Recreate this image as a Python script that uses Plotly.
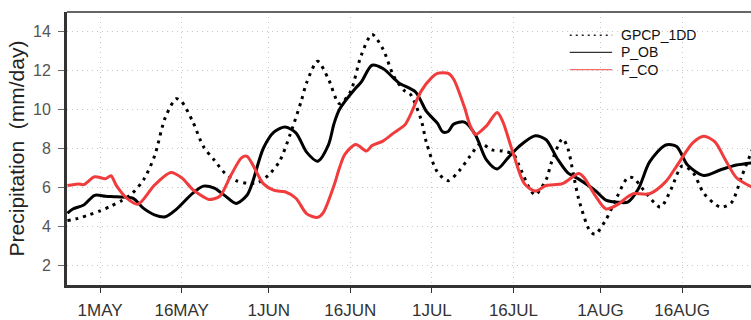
import plotly.graph_objects as go

# Daily precipitation series (mm/day), summer season
gpcp_dates = ["2010-04-25", "2010-04-27", "2010-04-29", "2010-05-01", "2010-05-03", "2010-05-05",
              "2010-05-07", "2010-05-09", "2010-05-11", "2010-05-13", "2010-05-15", "2010-05-16",
              "2010-05-18", "2010-05-20", "2010-05-22", "2010-05-24", "2010-05-26", "2010-05-28",
              "2010-05-30", "2010-06-01", "2010-06-03", "2010-06-05", "2010-06-07", "2010-06-08",
              "2010-06-10", "2010-06-12", "2010-06-14", "2010-06-16", "2010-06-18", "2010-06-20",
              "2010-06-22", "2010-06-24", "2010-06-26", "2010-06-27", "2010-06-29", "2010-06-30",
              "2010-07-02", "2010-07-04", "2010-07-06", "2010-07-08", "2010-07-10", "2010-07-12",
              "2010-07-14", "2010-07-16", "2010-07-17", "2010-07-19", "2010-07-20", "2010-07-22",
              "2010-07-23", "2010-07-25", "2010-07-26", "2010-07-27", "2010-07-28", "2010-07-30",
              "2010-07-31", "2010-08-02", "2010-08-04", "2010-08-06", "2010-08-07", "2010-08-09",
              "2010-08-12", "2010-08-14", "2010-08-16", "2010-08-18", "2010-08-20", "2010-08-23",
              "2010-08-25", "2010-08-27", "2010-08-29"]
gpcp_vals = [4.3, 4.42, 4.6, 4.8, 5.05, 5.33,
             5.73, 6.4, 7.6, 9.6, 10.55, 10.4,
             9.4, 8.1, 7.4, 6.72, 6.35, 6.22,
             6.25, 6.65, 7.35, 8.77, 10.45, 11.4,
             12.47, 11.55, 10.3, 10.9, 12.77, 13.85,
             13.1, 11.7, 10.95, 10.8, 9.5, 8.3,
             6.8, 6.35, 6.85, 7.6, 8.25, 7.93,
             7.87, 7.7, 7.15, 5.93, 5.62, 6.4,
             7.3, 8.5, 8.0, 6.7, 5.4, 3.8,
             3.6, 4.35, 5.5, 6.5, 6.5, 5.85,
             5.0, 5.93, 7.1, 6.77, 5.7, 5.0,
             5.2, 6.6, 8.0]

pob_dates = ["2010-04-25", "2010-04-26", "2010-04-28", "2010-04-30", "2010-05-02", "2010-05-04",
             "2010-05-07", "2010-05-09", "2010-05-11", "2010-05-13", "2010-05-15", "2010-05-18",
             "2010-05-20", "2010-05-22", "2010-05-24", "2010-05-26", "2010-05-28", "2010-05-29",
             "2010-05-31", "2010-06-02", "2010-06-04", "2010-06-06", "2010-06-08", "2010-06-10",
             "2010-06-12", "2010-06-13", "2010-06-14", "2010-06-17", "2010-06-18", "2010-06-20",
             "2010-06-22", "2010-06-24", "2010-06-25", "2010-06-28", "2010-06-30", "2010-07-02",
             "2010-07-03", "2010-07-04", "2010-07-05", "2010-07-07", "2010-07-09", "2010-07-11",
             "2010-07-13", "2010-07-15", "2010-07-17", "2010-07-20", "2010-07-22", "2010-07-24",
             "2010-07-26", "2010-07-28", "2010-07-31", "2010-08-02", "2010-08-04", "2010-08-06",
             "2010-08-08", "2010-08-10", "2010-08-13", "2010-08-15", "2010-08-17", "2010-08-20",
             "2010-08-23", "2010-08-26", "2010-08-29"]
pob_vals = [4.68, 4.9, 5.1, 5.6, 5.55, 5.52,
            5.45, 4.93, 4.6, 4.5, 4.88, 5.7,
            6.07, 5.97, 5.57, 5.18, 5.6, 6.25,
            8.0, 8.85, 9.1, 8.8, 7.8, 7.35,
            8.2, 9.27, 10.0, 11.1, 11.4, 12.27,
            12.1, 11.6, 11.35, 10.9, 9.9, 9.3,
            8.85, 8.87, 9.25, 9.35, 8.7, 7.43,
            6.95, 7.52, 8.1, 8.65, 8.45, 7.5,
            6.75, 6.43, 5.85, 5.35, 5.25, 5.25,
            5.95, 7.3, 8.18, 8.1, 7.15, 6.62,
            6.9, 7.15, 7.27]

fco_dates = ["2010-04-25", "2010-04-27", "2010-04-28", "2010-04-30", "2010-05-02", "2010-05-03",
             "2010-05-04", "2010-05-06", "2010-05-08", "2010-05-11", "2010-05-14", "2010-05-16",
             "2010-05-18", "2010-05-20", "2010-05-21", "2010-05-23", "2010-05-25", "2010-05-27",
             "2010-05-28", "2010-05-29", "2010-05-31", "2010-06-02", "2010-06-04", "2010-06-06",
             "2010-06-08", "2010-06-10", "2010-06-11", "2010-06-13", "2010-06-14", "2010-06-15",
             "2010-06-17", "2010-06-19", "2010-06-20", "2010-06-22", "2010-06-24", "2010-06-26",
             "2010-06-27", "2010-06-29", "2010-07-01", "2010-07-02", "2010-07-04", "2010-07-05",
             "2010-07-07", "2010-07-08", "2010-07-09", "2010-07-11", "2010-07-13", "2010-07-14",
             "2010-07-16", "2010-07-18", "2010-07-20", "2010-07-22", "2010-07-25", "2010-07-28",
             "2010-07-29", "2010-07-31", "2010-08-02", "2010-08-04", "2010-08-06", "2010-08-07",
             "2010-08-10", "2010-08-13", "2010-08-15", "2010-08-18", "2010-08-20", "2010-08-22",
             "2010-08-24", "2010-08-26", "2010-08-29"]
fco_vals = [6.1, 6.18, 6.15, 6.55, 6.45, 6.6,
            6.1, 5.43, 5.15, 6.12, 6.77, 6.5,
            5.9, 5.52, 5.38, 5.55, 6.6, 7.52,
            7.6, 7.2, 6.2, 5.85, 5.78, 5.45,
            4.65, 4.47, 4.7, 6.1, 7.0, 7.7,
            8.2, 7.87, 8.15, 8.38, 8.8, 9.2,
            9.7, 10.93, 11.65, 11.85, 11.85, 11.55,
            10.1, 9.2, 8.72, 9.15, 9.85, 9.4,
            7.7, 6.2, 5.82, 6.1, 6.2, 6.72,
            6.5, 5.6, 4.9, 5.1, 5.52, 5.68,
            5.68, 6.3, 7.1, 8.3, 8.63, 8.35,
            7.4, 6.5, 6.0]

tick_dates = ["2010-05-01", "2010-05-16", "2010-06-01", "2010-06-16",
              "2010-07-01", "2010-07-16", "2010-08-01", "2010-08-16"]
tick_labels = ["1MAY", "16MAY", "1JUN", "16JUN", "1JUL", "16JUL", "1AUG", "16AUG"]
y_ticks = [2, 4, 6, 8, 10, 12, 14]

series_names = ["GPCP_1DD", "P_OB", "F_CO"]
RED = "#f03c3c"
FONT = "Liberation Sans, Arial, sans-serif"

fig = go.Figure()
fig.add_trace(go.Scatter(x=gpcp_dates, y=gpcp_vals, mode="lines", name=series_names[0],
                         line=dict(color="black", width=3, dash="3px,5px",
                                   shape="spline", smoothing=0.8),
                         showlegend=False))
fig.add_trace(go.Scatter(x=pob_dates, y=pob_vals, mode="lines", name=series_names[1],
                         line=dict(color="black", width=3, shape="spline", smoothing=0.8),
                         showlegend=False))
fig.add_trace(go.Scatter(x=fco_dates, y=fco_vals, mode="lines", name=series_names[2],
                         line=dict(color=RED, width=3, shape="spline", smoothing=0.8),
                         showlegend=False))

# Key drawn in paper coordinates: thin line sample + label per series
key_styles = [dict(color="#222", width=1.5, dash="2px,4px"),
              dict(color="#333", width=1.2),
              dict(color="#f07070", width=1.2)]
key_rows = [0.915, 0.852, 0.789]
shapes = []
annotations = []
for name, style, yy in zip(series_names, key_styles, key_rows):
    shapes.append(dict(type="line", xref="paper", yref="paper",
                       x0=0.735, x1=0.797, y0=yy, y1=yy, line=style))
    annotations.append(dict(xref="paper", yref="paper", x=0.807, y=yy, text=name,
                            showarrow=False, xanchor="left", yanchor="middle",
                            font=dict(family=FONT, size=14, color="#111")))
# top frame
shapes.append(dict(type="line", xref="paper", yref="paper", x0=0, x1=1, y0=1, y1=1,
                   line=dict(color="#333", width=1.5)))

fig.update_layout(
    width=751, height=320,
    margin=dict(l=67, r=0, t=12, b=29),
    paper_bgcolor="white", plot_bgcolor="white",
    shapes=shapes, annotations=annotations,
    showlegend=False,
    xaxis=dict(
        range=["2010-04-24 22:00", "2010-08-28 16:00"],
        tickmode="array", tickvals=tick_dates, ticktext=tick_labels,
        ticks="outside", ticklen=5, tickwidth=1, tickcolor="#333",
        tickfont=dict(family=FONT, size=17, color="#333"),
        ticklabelstandoff=3,
        showline=True, linecolor="#333", linewidth=2.5,
        showgrid=True, gridcolor="#c8c8c8", gridwidth=1, griddash="1px,4px",
        zeroline=False,
    ),
    yaxis=dict(
        range=[1, 15],
        tickmode="array", tickvals=y_ticks,
        ticks="outside", ticklen=6, tickwidth=1, tickcolor="#666",
        tickfont=dict(family=FONT, size=16, color="#555"),
        ticklabelstandoff=4,
        showline=True, linecolor="#333", linewidth=3,
        showgrid=True, gridcolor="#c8c8c8", gridwidth=1, griddash="1px,4px",
        zeroline=False,
        title=dict(text="Precipitation  (mm/day)", standoff=3,
                   font=dict(family="Liberation Sans Narrow, " + FONT, size=21, color="#222")),
    ),
)

fig.write_html("out.html")
